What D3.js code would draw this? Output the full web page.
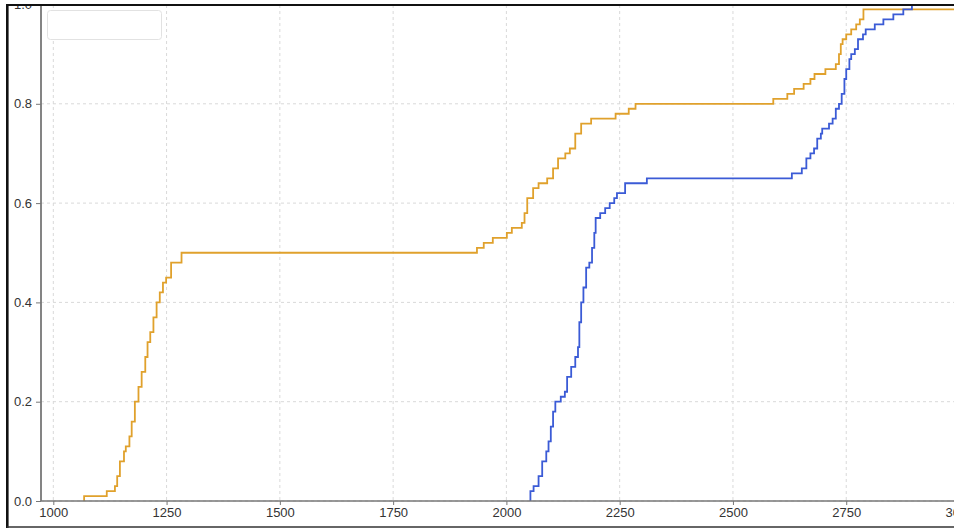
<!DOCTYPE html>
<html>
<head>
<meta charset="utf-8">
<script src="https://cdn.jsdelivr.net/npm/d3@7"></script>
<style>
  body { margin: 0; background: #fff; overflow: hidden; }
  svg { display: block; font-family: "DejaVu Sans", sans-serif; }
  .tick text { font-size: 13px; fill: #333; }
  .tick line { stroke: #777; }
  .grid line { stroke: #d9d9d9; stroke-dasharray: 3,3; }
</style>
</head>
<body>
<svg width="954" height="529"></svg>
<script>
var svg = d3.select("svg"),
    width = +svg.attr("width"),
    height = +svg.attr("height");

// tick values
var xTicks = [1000, 1250, 1500, 1750, 2000, 2250, 2500, 2750, 3000];
var yTicks = [0.0, 0.2, 0.4, 0.6, 0.8, 1.0];

// orange series: step positions and cumulative share after each step
var orangeX = [1068, 1118, 1136, 1141, 1147, 1156, 1160, 1168, 1173, 1180,
               1188, 1195, 1203, 1208, 1214, 1221, 1228, 1235, 1242, 1249,
               1260, 1283, 1935, 1950, 1970, 2001, 2012, 2034, 2040, 2046,
               2059, 2071, 2090, 2103, 2114, 2130, 2140, 2152, 2165, 2187,
               2241, 2270, 2285, 2589, 2620, 2635, 2656, 2671, 2680, 2704,
               2727, 2734, 2738, 2742, 2750, 2761, 2772, 2780, 2788];
var orangeY = [0.01, 0.02, 0.03, 0.05, 0.08, 0.10, 0.11, 0.13, 0.16, 0.20,
               0.23, 0.26, 0.29, 0.32, 0.34, 0.37, 0.40, 0.42, 0.44, 0.45,
               0.48, 0.50, 0.51, 0.52, 0.53, 0.54, 0.55, 0.56, 0.58, 0.61,
               0.63, 0.64, 0.65, 0.67, 0.69, 0.70, 0.71, 0.74, 0.76, 0.77,
               0.78, 0.79, 0.80, 0.81, 0.82, 0.83, 0.84, 0.85, 0.86, 0.87,
               0.88, 0.90, 0.92, 0.93, 0.94, 0.95, 0.96, 0.97, 0.99];

// blue series
var blueX = [2053, 2060, 2071, 2079, 2088, 2093, 2098, 2103, 2108, 2120,
             2129, 2134, 2143, 2152, 2158, 2161, 2165, 2170, 2176, 2183,
             2189, 2194, 2197, 2207, 2218, 2228, 2238, 2244, 2262, 2310,
             2630, 2652, 2662, 2671, 2679, 2686, 2694, 2697, 2712, 2720,
             2727, 2734, 2740, 2746, 2750, 2757, 2761, 2769, 2776, 2787,
             2793, 2813, 2832, 2854, 2876, 2895];
var blueY = [0.02, 0.03, 0.05, 0.08, 0.10, 0.12, 0.15, 0.18, 0.20, 0.21,
             0.22, 0.25, 0.27, 0.29, 0.31, 0.36, 0.40, 0.43, 0.47, 0.48,
             0.51, 0.54, 0.57, 0.58, 0.59, 0.60, 0.61, 0.62, 0.64, 0.65,
             0.66, 0.67, 0.69, 0.70, 0.71, 0.73, 0.74, 0.75, 0.76, 0.77,
             0.79, 0.80, 0.82, 0.85, 0.87, 0.89, 0.90, 0.91, 0.93, 0.94,
             0.95, 0.96, 0.97, 0.98, 0.99, 1.00];

var plotLeft = 41, plotBottom = 501, plotTop = 5;

var x = d3.scaleLinear().domain([1000, 3000]).range([53.3, 959.5]);
var y = d3.scaleLinear().domain([0, 1]).range([501, 4.5]);

function steps(xs, ys) {
  var pts = [[xs[0], 0]];
  xs.forEach(function(v, i) { pts.push([v, ys[i]]); });
  pts.push([3200, ys[ys.length - 1]]);
  return pts;
}

svg.append("rect").attr("width", width).attr("height", height).attr("fill", "#fff");

svg.append("defs").append("clipPath").attr("id", "plot")
  .append("rect").attr("x", plotLeft).attr("y", plotTop)
  .attr("width", width - plotLeft).attr("height", plotBottom - plotTop + 1);

// grid
var grid = svg.append("g").attr("class", "grid");
grid.selectAll("line.v").data(xTicks).enter().append("line")
    .attr("x1", function(d) { return x(d); }).attr("x2", function(d) { return x(d); })
    .attr("y1", plotTop).attr("y2", plotBottom);
grid.selectAll("line.h").data(yTicks).enter().append("line")
    .attr("x1", plotLeft).attr("x2", width)
    .attr("y1", function(d) { return y(d); }).attr("y2", function(d) { return y(d); });

var line = d3.line()
    .x(function(d) { return x(d[0]); })
    .y(function(d) { return y(d[1]); })
    .curve(d3.curveStepAfter);

var plot = svg.append("g").attr("clip-path", "url(#plot)");
plot.append("path").datum(steps(orangeX, orangeY))
    .attr("fill", "none").attr("stroke", "#e0a12c").attr("stroke-width", 1.8)
    .attr("d", line);
plot.append("path").datum(steps(blueX, blueY))
    .attr("fill", "none").attr("stroke", "#3b5bd6").attr("stroke-width", 1.8)
    .attr("d", line);

// axes
var xAxis = svg.append("g").attr("transform", "translate(0," + plotBottom + ")")
    .call(d3.axisBottom(x).tickValues(xTicks).tickFormat(d3.format("d")).tickSize(4).tickPadding(3));
xAxis.select(".domain").remove();
var yAxis = svg.append("g").attr("transform", "translate(" + plotLeft + ",0)")
    .call(d3.axisLeft(y).tickValues(yTicks).tickFormat(d3.format(".1f")).tickSize(5).tickPadding(4));
yAxis.select(".domain").remove();

svg.append("line").attr("x1", plotLeft).attr("x2", width).attr("y1", plotBottom).attr("y2", plotBottom)
    .attr("stroke", "#777").attr("stroke-width", 1.6);
svg.append("line").attr("x1", plotLeft).attr("x2", plotLeft).attr("y1", plotTop).attr("y2", plotBottom)
    .attr("stroke", "#777").attr("stroke-width", 1.8);

// empty legend box
svg.append("rect").attr("x", 47.5).attr("y", 10.5).attr("width", 114).attr("height", 29).attr("rx", 3)
    .attr("fill", "#fff").attr("stroke", "#e2e2e2");

// screenshot frame
svg.append("rect").attr("x", 0).attr("y", 0).attr("width", width).attr("height", 4).attr("fill", "#fff");
svg.append("rect").attr("x", 0).attr("y", 0).attr("width", 6).attr("height", height).attr("fill", "#fff");
svg.append("line").attr("x1", 7).attr("x2", width).attr("y1", 5).attr("y2", 5)
    .attr("stroke", "#111").attr("stroke-width", 2.2);
svg.append("line").attr("x1", 7.3).attr("x2", 7.3).attr("y1", 4).attr("y2", 528)
    .attr("stroke", "#111").attr("stroke-width", 2.6);
svg.append("line").attr("x1", 7).attr("x2", width).attr("y1", 527).attr("y2", 527)
    .attr("stroke", "#333").attr("stroke-width", 1.6);
</script>
</body>
</html>
